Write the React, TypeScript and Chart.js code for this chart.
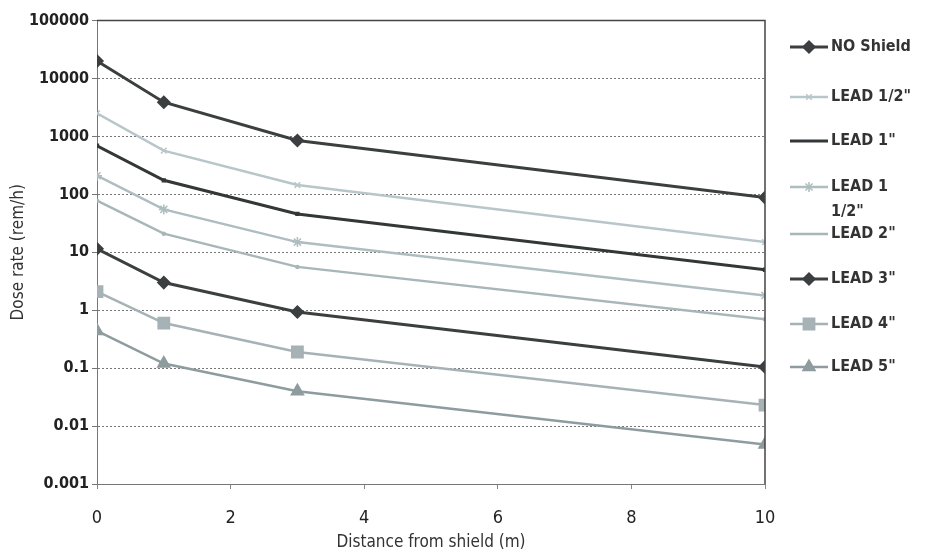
import React, { useEffect, useRef } from "react";
import { Chart, registerables } from "chart.js";
import { drawPoint } from "chart.js/helpers";

Chart.register(...registerables);

const distances = [0, 1, 3, 10];
const seriesNames = ['NO Shield', 'LEAD 1/2"', 'LEAD 1"', 'LEAD 1 1/2"', 'LEAD 2"', 'LEAD 3"', 'LEAD 4"', 'LEAD 5"'];
const noShield = [20000, 3900, 850, 88];
const lead05 = [2500, 570, 145, 15];
const lead1 = [690, 175, 46, 5];
const lead15 = [210, 55, 15, 1.8];
const lead2 = [78, 21, 5.6, 0.7];
const lead3 = [11.5, 3, 0.93, 0.105];
const lead4 = [2.1, 0.6, 0.19, 0.023];
const lead5 = [0.44, 0.12, 0.04, 0.0048];
const yTicks = [0.001, 0.01, 0.1, 1, 10, 100, 1000, 10000, 100000];
const xTicks = [0, 2, 4, 6, 8, 10];

const FONT = "'Liberation Sans Narrow', 'DejaVu Sans Condensed', 'Liberation Sans', sans-serif";

const styles = [
  { color: "#3b3f40", width: 3, point: "rectRot", radius: 6 },
  { color: "#b8c6c9", width: 2.5, point: "crossRot", radius: 4 },
  { color: "#333738", width: 3, point: "rect", radius: 2 },
  { color: "#aebdc0", width: 2.5, point: "star", radius: 5 },
  { color: "#a9b6b8", width: 2.5, point: "circle", radius: 1.5 },
  { color: "#3b3f40", width: 3, point: "rectRot", radius: 6 },
  { color: "#a6b2b5", width: 2.5, point: "rect", radius: 8 },
  { color: "#8e9c9f", width: 2.5, point: "triangle", radius: 7 },
];

const seriesValues = [noShield, lead05, lead1, lead15, lead2, lead3, lead4, lead5];
const legendY = [39, 89, 133, 179, 226, 271, 316, 359];

const legendPlugin = {
  id: "customLegend",
  afterDraw(chart: any) {
    const ctx = chart.ctx;
    ctx.save();
    chart.data.datasets.forEach((ds: any, i: number) => {
      const y = legendY[i];
      const x0 = 782;
      const x1 = 820;
      ctx.strokeStyle = ds.borderColor;
      ctx.lineWidth = ds.borderWidth;
      ctx.beginPath();
      ctx.moveTo(x0, y);
      ctx.lineTo(x1, y);
      ctx.stroke();
      const st = styles[i];
      if (st.radius > 2) {
        ctx.fillStyle = st.color;
        ctx.strokeStyle = st.color;
        ctx.lineWidth = 1.5;
        drawPoint(ctx, { pointStyle: st.point as any, radius: st.radius, borderWidth: 1.5, rotation: 0 } as any, (x0 + x1) / 2, y);
      }
      ctx.fillStyle = "#333";
      ctx.font = "bold 16px " + FONT;
      ctx.textBaseline = "middle";
      ctx.textAlign = "left";
      const name = seriesNames[i];
      if (name === 'LEAD 1 1/2"') {
        ctx.fillText("LEAD 1", 823, y);
        ctx.fillText('1/2"', 823, y + 25);
      } else {
        ctx.fillText(name, 823, y);
      }
    });
    ctx.restore();
  },
};

const framePlugin = {
  id: "frame",
  afterDatasetsDraw(chart: any) {
    const { ctx, chartArea } = chart;
    ctx.save();
    ctx.strokeStyle = "#444";
    ctx.lineWidth = 1.5;
    ctx.beginPath();
    ctx.moveTo(chartArea.left, chartArea.top);
    ctx.lineTo(chartArea.right, chartArea.top);
    ctx.lineTo(chartArea.right, chartArea.bottom);
    ctx.stroke();
    ctx.restore();
  },
};

export default function App() {
  const ref = useRef<HTMLCanvasElement>(null);
  useEffect(() => {
    if (!ref.current) return;
    document.documentElement.style.overflow = "hidden";
    const chart = new Chart(ref.current, {
      type: "line",
      data: {
        datasets: seriesValues.map((vals, i) => ({
          label: seriesNames[i],
          data: distances.map((d, j) => ({ x: d, y: vals[j] })),
          borderColor: styles[i].color,
          backgroundColor: styles[i].color,
          borderWidth: styles[i].width,
          pointStyle: styles[i].point as any,
          pointRadius: styles[i].radius,
          pointBorderColor: styles[i].color,
          pointBackgroundColor: styles[i].color,
          pointBorderWidth: 1.5,
          tension: 0,
        })),
      },
      options: {
        animation: false,
        responsive: false,
        layout: { padding: { top: 9, right: 156, left: 0, bottom: 0 } },
        plugins: {
          legend: { display: false },
          tooltip: { enabled: false },
        },
        scales: {
          x: {
            type: "linear",
            min: 0,
            max: 10,
            afterBuildTicks: (scale: any) => {
              scale.ticks = xTicks.map((v) => ({ value: v }));
            },
            afterFit: (scale: any) => {
              scale.height = 69;
            },
            grid: {
              display: true,
              drawOnChartArea: false,
              drawTicks: true,
              tickLength: 5,
              color: "#888",
            },
            border: { display: true, color: "#777", dash: [2, 2] },
            ticks: {
              color: "#222",
              font: { family: FONT, size: 18 },
              padding: 19,
            },
            title: {
              display: true,
              text: "Distance from shield (m)",
              color: "#333",
              font: { family: FONT, size: 17 },
              padding: { top: 0, bottom: 0 },
            },
          },
          y: {
            type: "logarithmic",
            min: 0.001,
            max: 100000,
            afterBuildTicks: (scale: any) => {
              scale.ticks = yTicks.map((v) => ({ value: v }));
            },
            afterFit: (scale: any) => {
              scale.width = 89;
            },
            grid: {
              color: "#777",
              lineWidth: 1,
              tickLength: 5,
            },
            border: { display: true, color: "#777", dash: [2, 2] },
            ticks: {
              color: "#222",
              font: { family: FONT, size: 16, weight: "bold" },
              padding: 3,
              autoSkip: false,
              callback: (v: any) => String(Number(v)),
            },
            title: {
              display: true,
              text: "Dose rate (rem/h)",
              color: "#333",
              font: { family: FONT, size: 17 },
              padding: { top: 0, bottom: 0 },
            },
          },
        },
      },
      plugins: [legendPlugin, framePlugin],
    } as any);
    return () => chart.destroy();
  }, []);
  return (
    <div style={{ width: 913, height: 545 }}>
      <canvas ref={ref} width={913} height={545} style={{ width: 913, height: 545, display: "block" }} />
    </div>
  );
}
